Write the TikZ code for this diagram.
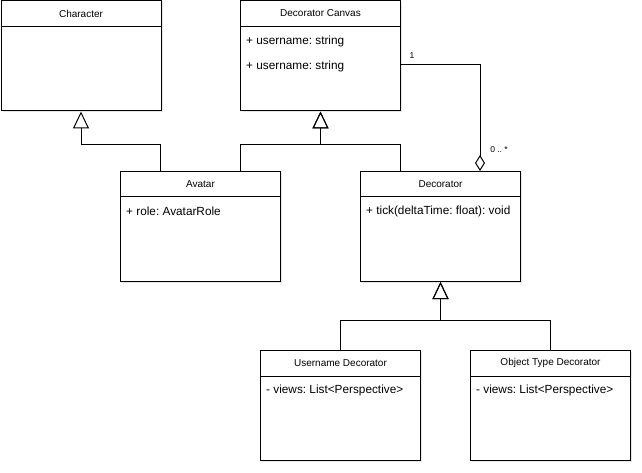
\documentclass[tikz,border=0pt]{standalone}
\usepackage{fontspec}
\setmainfont{Liberation Sans}
\usetikzlibrary{arrows.meta,calc,shadows}
\frenchspacing
\begin{document}
\begin{tikzpicture}[x=1pt,y=-1pt,
  cls/.style={draw,fill=white,line width=1pt,minimum width=160pt,minimum height=110pt,
    anchor=north west,inner sep=0pt,
    drop shadow={opacity=0.2,shadow xshift=1.5pt,shadow yshift=-1.5pt}},
  ttl/.style={font=\fontsize{10}{12}\selectfont,anchor=center,inner sep=0pt},
  attr/.style={font=\fontsize{11.8}{14}\selectfont,anchor=west,inner sep=0pt},
  sep/.style={line width=1pt},
  inh/.style={line width=1pt,-{Triangle[open,length=17pt,width=16pt,line width=1pt]}},
  agg/.style={line width=1pt,-{Diamond[open,length=16pt,width=10pt,line width=1pt]}},
  mult/.style={font=\fontsize{8.5}{10}\selectfont,inner sep=1pt,fill=white}
]
\useasboundingbox (0,0) rectangle (642,473);

% classes
\node[cls] (character) at (0.5,0.5) {};
\node[cls] (canvas) at (240,0.5) {};
\node[cls] (avatar) at (120,171) {};
\node[cls] (decorator) at (360,171) {};
\node[cls] (userdec) at (260,350) {};
\node[cls] (objdec) at (470,350) {};

% separators
\foreach \n in {character,canvas,avatar,decorator,userdec,objdec}{
  \draw[sep] ($(\n.north west)+(0,26)$) -- ($(\n.north east)+(0,26)$);
}

% titles
\node[ttl] (t1) at ($(character.north)+(0,13)$) {Character};
\node[ttl] (t2) at ($(canvas.north)+(0,13)$) {Decorator Canvas};
\node[ttl] (t3) at ($(avatar.north)+(0,13)$) {Avatar};
\node[ttl] (t4) at ($(decorator.north)+(0,13)$) {Decorator};
\node[ttl] (t5) at ($(userdec.north)+(0,13)$) {Username Decorator};
\node[ttl] (t6) at ($(objdec.north)+(0,13)$) {Object Type Decorator};

% attributes
\node[attr] (a1) at ($(canvas.north west)+(6,41)$) {+ username: string};
\node[attr] (a2) at ($(canvas.north west)+(6,66)$) {+ username: string};
\node[attr] (a3) at ($(avatar.north west)+(6,40)$) {+ role: AvatarRole};
\node[attr] (a4) at ($(decorator.north west)+(6,40)$) {+ tick(deltaTime: float): void};
\node[attr] (a5) at ($(userdec.north west)+(6,40)$) {- views: List<Perspective>};
\node[attr] (a6) at ($(objdec.north west)+(6,40)$) {- views: List<Perspective>};

% inheritance
\draw[inh] ($(avatar.north west)+(40,0)$) -- ++(0,-26) -| (character.south);
\draw[inh] ($(avatar.north west)+(120,0)$) -- ++(0,-26) -| (canvas.south);
\draw[inh] ($(decorator.north west)+(40,0)$) -- ++(0,-26) -| (canvas.south);
\draw[inh] (userdec.north) -- ++(0,-30) -| (decorator.south);
\draw[inh] (objdec.north) -- ++(0,-30) -| (decorator.south);

% aggregation
\coordinate (aggstart) at ($(canvas.north east)+(0,64.5)$);
\coordinate (aggend) at ($(decorator.north west)+(120,0)$);
\draw[agg] (aggstart) -| (aggend);
\node[mult] (m1) at (412,56) {1};
\node[mult] (m2) at (499,150) {0 .. *};
\end{tikzpicture}
\end{document}
